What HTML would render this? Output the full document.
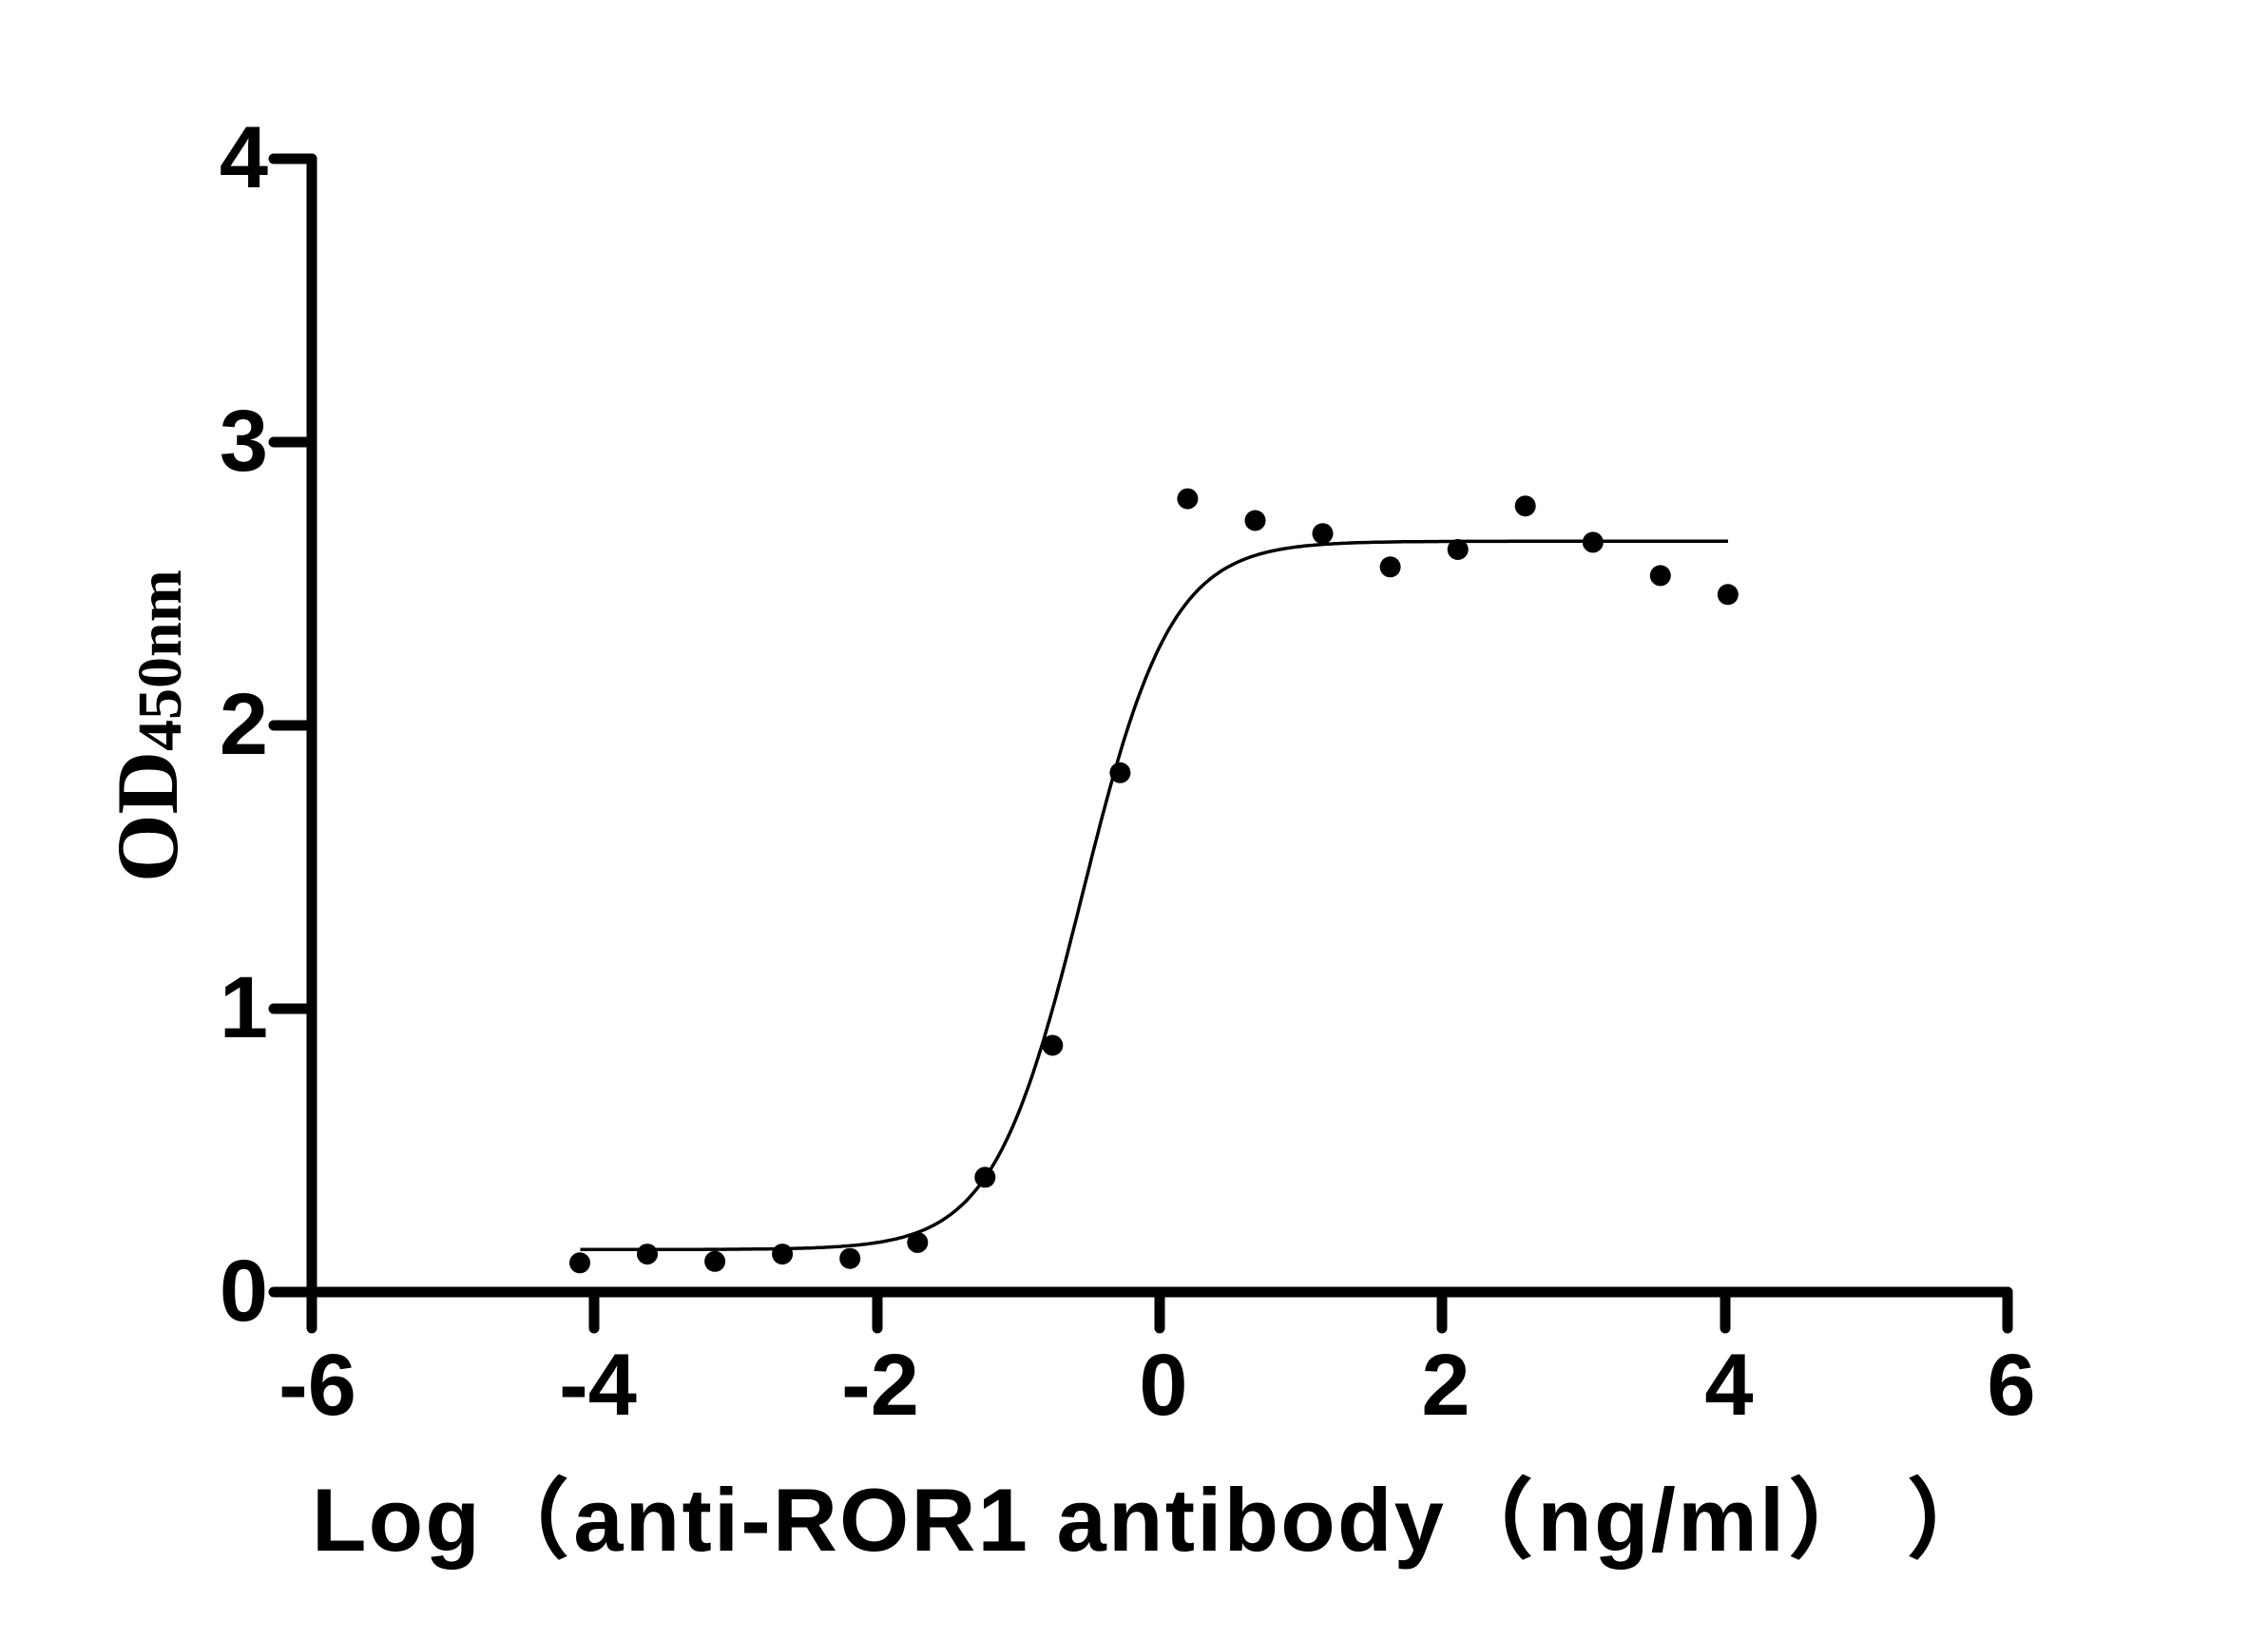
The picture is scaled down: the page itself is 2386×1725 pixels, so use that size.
<!DOCTYPE html>
<html><head><meta charset="utf-8"><style>
html,body{margin:0;padding:0;background:#fff;}
svg{display:block;}
</style></head><body>
<svg id="s" width="2386" height="1725" xmlns="http://www.w3.org/2000/svg">
<g stroke="#000" stroke-width="11" stroke-linecap="round" fill="none">
<line x1="328" y1="167" x2="328" y2="1359"/>
<line x1="328" y1="1359" x2="2112" y2="1359"/>
<line x1="288" y1="167" x2="328" y2="167"/>
<line x1="288" y1="465" x2="328" y2="465"/>
<line x1="288" y1="763" x2="328" y2="763"/>
<line x1="288" y1="1061" x2="328" y2="1061"/>
<line x1="288" y1="1359" x2="328" y2="1359"/>
<line x1="328" y1="1359" x2="328" y2="1397"/>
<line x1="625" y1="1359" x2="625" y2="1397"/>
<line x1="923" y1="1359" x2="923" y2="1397"/>
<line x1="1220" y1="1359" x2="1220" y2="1397"/>
<line x1="1517" y1="1359" x2="1517" y2="1397"/>
<line x1="1815" y1="1359" x2="1815" y2="1397"/>
<line x1="2112" y1="1359" x2="2112" y2="1397"/>
</g>
<g font-family="Liberation Sans, Arial, sans-serif" font-weight="bold" font-size="92" fill="#000">
<g text-anchor="end">
<text x="282" y="197">4</text>
<text x="282" y="495">3</text>
<text x="282" y="793">2</text>
<text x="282" y="1091">1</text>
<text x="282" y="1389">0</text>
</g>
<g text-anchor="middle">
<text x="334" y="1488">-6</text>
<text x="629" y="1488">-4</text>
<text x="926" y="1488">-2</text>
<text x="1224" y="1488">0</text>
<text x="1521" y="1488">2</text>
<text x="1819" y="1488">4</text>
<text x="2116" y="1488">6</text>
</g>
<text x="328" y="1631" font-size="94" textLength="1770" lengthAdjust="spacing" font-family="Liberation Sans, 'Noto Sans CJK SC', sans-serif">Log（anti-ROR1 antibody（ng/ml）  ）</text>
</g>
<text transform="translate(186,928) rotate(-90)" font-family="Liberation Serif, serif" font-weight="bold" font-size="92" fill="#000">OD<tspan font-size="66" dy="4">450nm</tspan></text>
<path id="c" fill="none" stroke="#000" stroke-width="3.5"/>
<g id="d" fill="#000"></g>
</svg>
<script>
var X=function(l){return 328+(l+6)*148.7;},Y=function(v){return 1359-v*298;};
var p="";for(var l=-4.10;l<=4.03;l+=0.02){var v=0.15+2.5/(1+Math.pow(10,(-0.55-l)*1.38));p+=(p?"L":"M")+X(l).toFixed(1)+","+Y(v).toFixed(1);}
document.getElementById("c").setAttribute("d",p);
var ys=[871,865,870,865,868,857,812,721,533,344,359,368,391,379,349,374,397,410];
var g=document.getElementById("d"),h="";
for(var i=0;i<ys.length;i++){h+='<circle cx="'+(610+i*71.05).toFixed(1)+'" cy="'+(ys[i]*1.525).toFixed(1)+'" r="11"/>';}
g.innerHTML=h;
</script>
</body></html>
